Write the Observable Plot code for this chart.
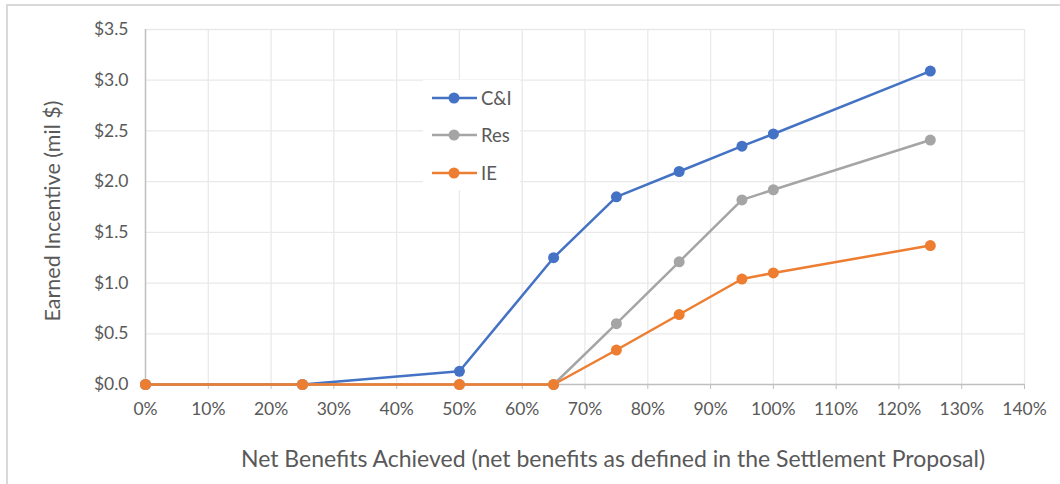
<!DOCTYPE html>
<html>
<head>
<meta charset="utf-8">
<script src="https://cdn.jsdelivr.net/npm/d3@7"></script>
<script src="https://cdn.jsdelivr.net/npm/@observablehq/plot@0.6"></script>
<style>
  html, body { margin: 0; padding: 0; background: #fff; }
  #wrap { position: relative; width: 1060px; height: 484px; overflow: hidden; font-family: Lato, "Open Sans", sans-serif; }
  #border { position: absolute; left: 6px; top: 4px; width: 1100px; height: 600px; border-left: 2px solid #d9d9d9; border-top: 2px solid #d9d9d9; box-sizing: border-box; pointer-events: none; }
  #legend { position: absolute; left: 423px; top: 80px; width: 97px; height: 110px; background: #fff; }
  .item { position: absolute; left: 8px; height: 22px; display: flex; align-items: center; color: #595959; font-size: 18.5px; }
  .item svg { margin-right: 3px; }
</style>
</head>
<body>
<div id="wrap">
  <div id="chart"></div>
  <div id="legend"></div>
  <div id="border"></div>
</div>
<script>
const xValues = [0, 25, 50, 65, 75, 85, 95, 100, 125];
const seriesNames = ["C&I", "Res", "IE"];
const ciValues  = [0, 0, 0.13, 1.25, 1.85, 2.10, 2.35, 2.47, 3.09];
const resValues = [0, 0, 0,    0,    0.60, 1.21, 1.82, 1.92, 2.41];
const ieValues  = [0, 0, 0,    0,    0.34, 0.69, 1.04, 1.10, 1.37];
const colors = ["#4472C4", "#A5A5A5", "#ED7D31"];
const xTicks = d3.range(0, 141, 10);
const yTicks = d3.range(0, 3.51, 0.5);

const allSeries = [ciValues, resValues, ieValues];
const data = [];
allSeries.forEach((vals, s) => vals.forEach((v, i) => data.push({series: seriesNames[s], x: xValues[i], y: v})));

const chart = Plot.plot({
  width: 1060,
  height: 484,
  marginLeft: 145,
  marginRight: 36,
  marginTop: 29,
  marginBottom: 100,
  style: {fontFamily: "Lato, 'Open Sans', sans-serif", fontSize: "17.5px", color: "#595959", background: "transparent"},
  x: {domain: [0, 140], label: null},
  y: {domain: [0, 3.5], label: null},
  color: {domain: seriesNames, range: colors},
  marks: [
    Plot.ruleX(xTicks.filter(d => d > 0), {stroke: "#e9e9e9", strokeWidth: 1.3}),
    Plot.ruleY(yTicks.filter(d => d > 0), {stroke: "#e9e9e9", strokeWidth: 1.3}),
    Plot.axisX({ticks: xTicks, tickFormat: d => d + "%", tickSize: 5, tickPadding: 13, stroke: "#bfbfbf", fill: "#595959", fontSize: 17.5}),
    Plot.axisY({ticks: yTicks, tickFormat: d => "$" + d.toFixed(1), tickSize: 0, tickPadding: 17, fill: "#595959", fontSize: 17.5}),
    Plot.ruleX([0], {stroke: "#bfbfbf", strokeWidth: 1.5}),
    Plot.ruleY([0], {stroke: "#bfbfbf", strokeWidth: 1.5}),
    Plot.line(data, {x: "x", y: "y", z: "series", stroke: "series", strokeWidth: 2.5}),
    Plot.dot(data, {x: "x", y: "y", fill: "series", r: 5.5}),
    Plot.text(["Net Benefits Achieved (net benefits as defined in the Settlement Proposal)"], {frameAnchor: "bottom", dy: 82, dx: 28, text: d => d, fontSize: 23, fill: "#595959"}),
    Plot.text(["Earned Incentive (mil $)"], {frameAnchor: "left", textAnchor: "middle", dx: -92, dy: 4, rotate: -90, text: d => d, fontSize: 21.5, fill: "#595959"})
  ]
});
document.getElementById("chart").appendChild(chart);

const legend = document.getElementById("legend");
const tops = [7, 44, 82];
seriesNames.forEach((name, i) => {
  const div = document.createElement("div");
  div.className = "item";
  div.style.top = tops[i] + "px";
  div.innerHTML = `<svg width="47" height="14"><line x1="1" x2="46" y1="7" y2="7" stroke="${colors[i]}" stroke-width="2.5"/><circle cx="23" cy="7" r="5.5" fill="${colors[i]}"/></svg><span>${name.replace("&", "&amp;")}</span>`;
  legend.appendChild(div);
});
</script>
</body>
</html>
